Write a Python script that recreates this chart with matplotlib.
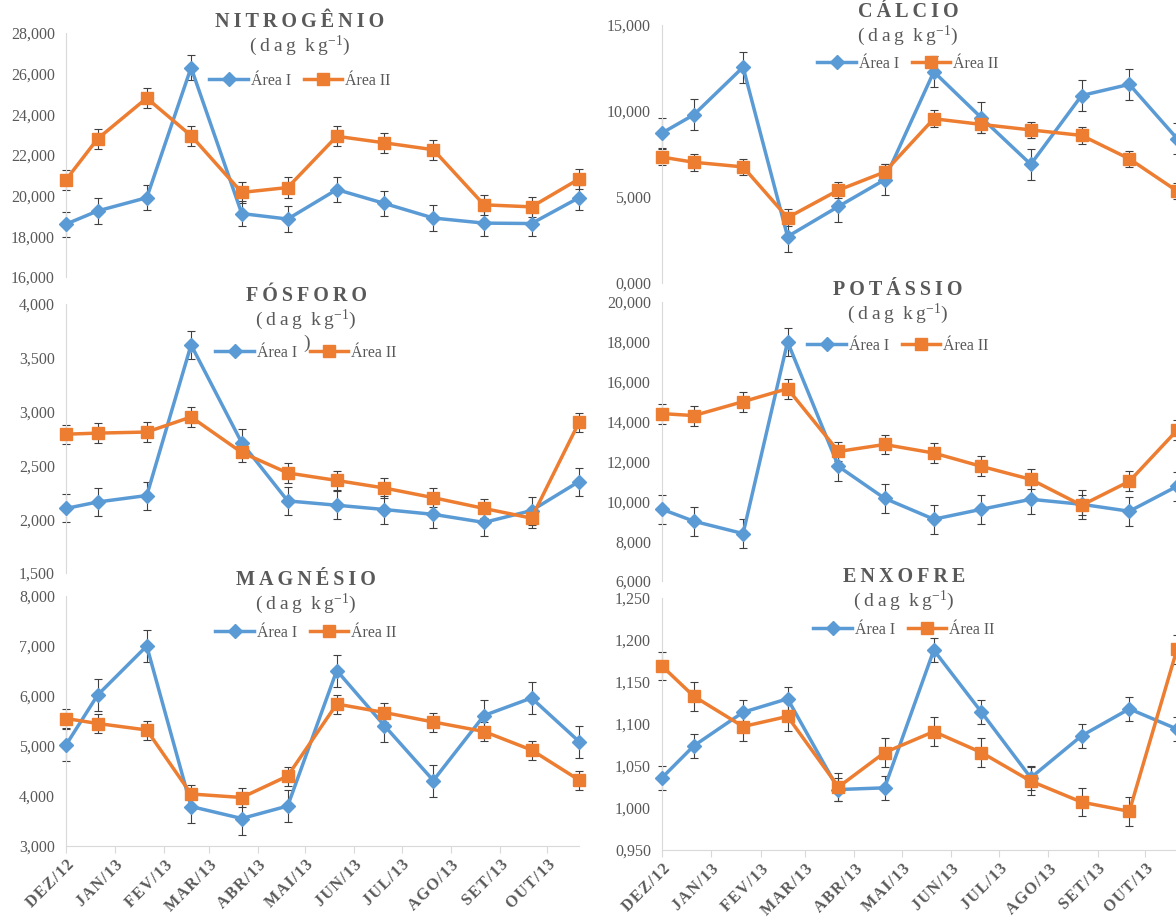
import pandas as pd
import matplotlib.pyplot as plt
from matplotlib.ticker import FuncFormatter

plt.rcParams['font.family'] = ['Liberation Serif', 'DejaVu Serif']
plt.rcParams['mathtext.fontset'] = 'custom'
plt.rcParams['mathtext.rm'] = 'Liberation Serif'
plt.rcParams['mathtext.it'] = 'Liberation Serif:italic'

datas = pd.to_datetime(['2012-12-01', '2012-12-21', '2013-01-21', '2013-02-18', '2013-03-22',
                        '2013-04-20', '2013-05-21', '2013-06-20', '2013-07-21', '2013-08-22',
                        '2013-09-21', '2013-10-21'])
meses = ['DEZ/12', 'JAN/13', 'FEV/13', 'MAR/13', 'ABR/13', 'MAI/13',
         'JUN/13', 'JUL/13', 'AGO/13', 'SET/13', 'OUT/13']

# valores medios e erros (Area I / Area II)
n_a1 = [18.60, 19.25, 19.90, 26.30, 19.12, 18.85, 20.30, 19.62, 18.90, 18.65, 18.63, 19.90]
n_a2 = [20.78, 22.80, 24.80, 22.95, 20.16, 20.40, 22.92, 22.60, 22.26, 19.55, 19.45, 20.82]
n_e1 = 0.62
n_e2 = 0.50

ca_a1 = [8.72, 9.78, 12.55, 2.70, 4.45, 6.00, 12.28, 9.60, 6.90, 10.90, 11.55, 8.40]
ca_a2 = [7.32, 7.02, 6.75, 3.80, 5.40, 6.45, 9.55, 9.22, 8.90, 8.58, 7.22, 5.35]
ca_e1 = 0.90
ca_e2 = 0.48

p_a1 = [2.10, 2.16, 2.22, 3.62, 2.71, 2.17, 2.13, 2.09, 2.045, 1.97, 2.08, 2.35]
p_a2 = [2.79, 2.80, 2.81, 2.95, 2.62, 2.43, 2.36, 2.29, 2.20, 2.10, 2.01, 2.90]
p_e1 = 0.13
p_e2 = 0.09

k_a1 = [9.60, 9.00, 8.38, 18.00, 11.75, 10.15, 9.10, 9.60, 10.10, 9.85, 9.50, 10.75]
k_a2 = [14.40, 14.30, 15.00, 15.65, 12.50, 12.85, 12.42, 11.75, 11.10, 9.80, 11.00, 13.56]
k_e1 = 0.72
k_e2 = 0.50

mg_a1 = [5.02, 6.02, 7.00, 3.79, 3.55, 3.80, 6.51, 5.41, 4.31, 5.61, 5.96, 5.09]
mg_a2 = [5.55, 5.45, 5.32, 4.04, 3.97, 4.40, 5.84, 5.67, 5.48, 5.29, 4.92, 4.32]
mg_e1 = 0.32
mg_e2 = 0.19

s_a1 = [1.036, 1.074, 1.114, 1.130, 1.022, 1.024, 1.188, 1.114, 1.036, 1.086, 1.118, 1.094]
s_a2 = [1.169, 1.133, 1.097, 1.109, 1.025, 1.066, 1.091, 1.066, 1.032, 1.007, 0.996, 1.189]
s_e1 = 0.014
s_e2 = 0.017

azul = '#5B9BD5'
laranja = '#ED7D31'
cinza = '#595959'
W, H = 1176, 918

fig = plt.figure(figsize=(W / 100, H / 100), dpi=100)


def caixa(x0, x1, y0, y1):
    # pixels -> fracao da figura
    return [x0 / W, 1 - y1 / H, (x1 - x0) / W, (y1 - y0) / H]


def espacado(txt, sep='\u2009'):
    return sep.join(txt)


def painel(pos, a1, a2, e1, e2, ylim, passo, titulo, tit_y, leg_y, cx, base=False):
    ax = fig.add_axes(caixa(*pos))
    for serie, erro in [(a1, e1), (a2, e2)]:
        ax.errorbar(datas, serie, yerr=erro, fmt='none', ecolor='#404040', elinewidth=0.8,
                    capsize=3, capthick=0.8, clip_on=False, zorder=2)
    ax.plot(datas, a1, color=azul, lw=2.5, marker='D', ms=7.5, label='Área I',
            clip_on=False, zorder=3)
    ax.plot(datas, a2, color=laranja, lw=2.5, marker='s', ms=9, label='Área II',
            clip_on=False, zorder=3)
    ax.set_ylim(*ylim)
    ax.set_yticks([ylim[0] + i * passo for i in range(int(round((ylim[1] - ylim[0]) / passo)) + 1)])
    ax.yaxis.set_major_formatter(FuncFormatter(lambda v, p: f'{v:.3f}'.replace('.', ',')))
    ax.set_xlim(datas[0], datas[-1])
    for s in ['top', 'right']:
        ax.spines[s].set_visible(False)
    ax.spines['left'].set_color('#d9d9d9')
    ax.tick_params(axis='y', length=0, labelsize=11.5, labelcolor=cinza, pad=8)
    ax.patch.set_alpha(0)
    if base:
        ax.spines['bottom'].set_color('#d9d9d9')
        ax.set_xticks(pd.date_range('2012-12-01', '2013-10-01', freq='MS'))
        ax.set_xticklabels([espacado(m, '\u200a') for m in meses], rotation=45, ha='right',
                           rotation_mode='anchor', fontweight='bold', fontsize=11.5, color=cinza)
        ax.tick_params(axis='x', length=5, color='#d9d9d9', pad=3)
    else:
        ax.spines['bottom'].set_visible(False)
        ax.set_xticks([])
    fig.text(cx / W, 1 - tit_y / H, espacado(titulo), ha='center', va='center',
             fontsize=14.5, fontweight='bold', color=cinza)
    fig.text(cx / W, 1 - (tit_y + 24) / H,
             '(\u2009d\u2009a\u2009g\u2009 k\u2009g$^{\\mathregular{-1}}$)',
             ha='center', va='center', fontsize=14, color=cinza)
    leg = ax.legend(loc='center', bbox_to_anchor=(cx / W, 1 - leg_y / H),
                    bbox_transform=fig.transFigure, ncol=2, frameon=False,
                    fontsize=11.5, handlelength=2.4, columnspacing=0.8, handletextpad=0.2)
    for t in leg.get_texts():
        t.set_color(cinza)
    return ax


painel((66, 579, 33, 277), n_a1, n_a2, n_e1, n_e2, (16, 28), 2, 'NITROGÊNIO', 22, 81, 300)
painel((662, 1177, 25, 283), ca_a1, ca_a2, ca_e1, ca_e2, (0, 15), 5, 'CÁLCIO', 12, 64, 908)
painel((66, 579, 304, 573), p_a1, p_a2, p_e1, p_e2, (1.5, 4.0), 0.5, 'FÓSFORO', 296, 353, 306)
painel((662, 1177, 302, 581), k_a1, k_a2, k_e1, k_e2, (6, 20), 2, 'POTÁSSIO', 290, 346, 898)
painel((66, 579, 596, 846), mg_a1, mg_a2, mg_e1, mg_e2, (3, 8), 1, 'MAGNÉSIO', 580, 633, 306,
       base=True)
painel((662, 1177, 598, 850), s_a1, s_a2, s_e1, s_e2, (0.95, 1.25), 0.05, 'ENXOFRE', 577, 630, 904,
       base=True)

# parentese solto no titulo do fosforo
fig.text(307 / W, 1 - 343 / H, ')', ha='center', va='center', fontsize=14, color=cinza)

fig.savefig('out.png', dpi=100)
